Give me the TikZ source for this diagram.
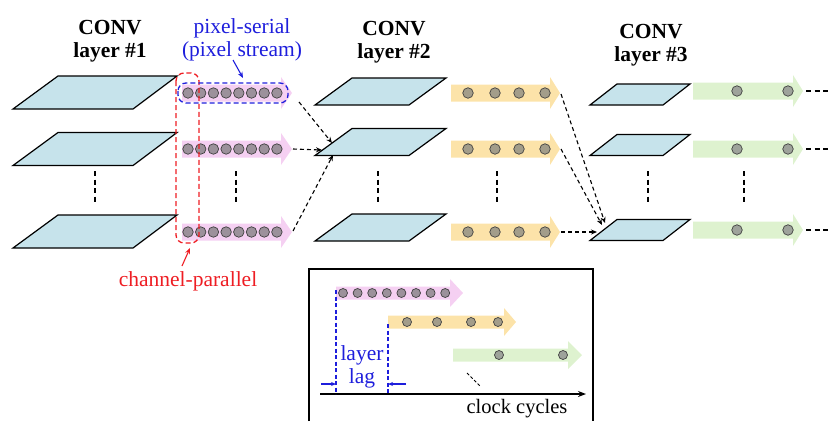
\documentclass[tikz,border=0pt]{standalone}
\usepackage{fontspec}
\setmainfont{Liberation Serif}
\usetikzlibrary{arrows.meta}
\definecolor{red}{HTML}{EE1D23}
\definecolor{blue}{HTML}{1E1EDC}
\definecolor{plane}{HTML}{C6E3EB}
\definecolor{pink}{HTML}{F5D0F2}
\definecolor{yellow}{HTML}{FCE3A9}
\definecolor{green}{HTML}{DEF2CF}
\definecolor{pinkdot}{HTML}{9C919B}
\definecolor{yellowdot}{HTML}{A39D8A}
\definecolor{greendot}{HTML}{9EA39B}

\tikzset{
  plane/.style={draw=black,fill=plane,line width=1.2pt,line join=miter},
  dot/.style={circle,draw=black!75,line width=0.7pt,inner sep=0pt,minimum size=10.5pt},
  link/.style={line width=1.1pt,dash pattern=on 4pt off 3pt,-{Stealth[length=6pt,width=5pt]}},
  vdots/.style={line width=1.1pt,dash pattern=on 5pt off 3.5pt},
  txt/.style={align=center,inner sep=0pt,font=\fontsize{21.5}{22.5}\selectfont},
}

\begin{document}
\begin{tikzpicture}[x=1pt,y=-1pt]
  \useasboundingbox (0,0) rectangle (830,421);

  % headings
  \node (h1) at (110,41)[txt,font=\fontsize{21.5}{22.5}\selectfont\bfseries]{CONV\\layer \#1};
  \node (h2) at (394,42)[txt,font=\fontsize{21.5}{22.5}\selectfont\bfseries]{CONV\\layer \#2};
  \node (h3) at (651,45)[txt,font=\fontsize{21.5}{22.5}\selectfont\bfseries]{CONV\\layer \#3};

  % feature maps
  \foreach \y in {92.5,149,231.5}
    \draw[plane] (13,\y+16.5) -- (133,\y+16.5) -- (177,\y-16.5) -- (58,\y-16.5) -- cycle;
  \foreach \y in {91.5,142,227.5}
    \draw[plane] (315,\y+13.5) -- (409,\y+13.5) -- (446,\y-13.5) -- (352,\y-13.5) -- cycle;
  \foreach \y in {94.5,145,230}
    \draw[plane] (590,\y+10.5) -- (663,\y+10.5) -- (690,\y-10.5) -- (617,\y-10.5) -- cycle;

  % pixel streams
  \foreach \y in {93,149,232} {
    \fill[pink] (182,\y-8.5) -- (281,\y-8.5) -- (281,\y-16) -- (292,\y) -- (281,\y+16) -- (281,\y+8.5) -- (182,\y+8.5) -- cycle;
    \foreach \i in {0,...,7}
      \node (pa-\y-\i) at (188+12.7*\i,\y)[dot,fill=pinkdot]{};
    \fill[yellow] (451,\y-8.5) -- (550,\y-8.5) -- (550,\y-16) -- (560,\y) -- (550,\y+16) -- (550,\y+8.5) -- (451,\y+8.5) -- cycle;
    \foreach \x in {468,495,519,545}
      \node (ya-\y-\x) at (\x,\y)[dot,fill=yellowdot]{};
  }
  \foreach \y in {91,149,230} {
    \fill[green] (693,\y-8.5) -- (793,\y-8.5) -- (793,\y-16) -- (803,\y) -- (793,\y+16) -- (793,\y+8.5) -- (693,\y+8.5) -- cycle;
    \foreach \x in {737,788}
      \node (ga-\y-\x) at (\x,\y)[dot,fill=greendot]{};
    \coordinate (gout-\y) at (806,\y);
    \coordinate (gend-\y) at (830,\y);
    \draw[vdots] (gout-\y) -- (gend-\y);
  }

  % vertical dots between rows
  \foreach \x in {95,236,378,497,648,744}
    \draw[vdots] (\x,171) -- (\x,203);

  % channel-parallel / pixel-serial marks
  \draw[red,line width=1.3pt,dash pattern=on 5pt off 3pt,rounded corners=8pt] (176,73) rectangle (199,243);
  \draw[blue,line width=1.3pt,dash pattern=on 5pt off 3pt,rounded corners=8pt] (178,83) rectangle (288,103);

  \node (serial) at (242,40)[txt,text=blue]{pixel-serial\\(pixel stream)};
  \node (parallel) at (188,281)[txt,text=red]{channel-parallel};
  \coordinate (serialtip) at (243,78);
  \coordinate (paralleltip) at (190,248);
  \draw[blue,line width=1.1pt,-{Stealth[length=6pt,width=5pt]}] (233,60) -- (serialtip);
  \draw[red,line width=1.1pt,-{Stealth[length=6pt,width=5pt]}] (182,266) -- (paralleltip);

  % layer 1 -> layer 2
  \coordinate (out1a) at (299,102);
  \coordinate (out1b) at (293,149);
  \coordinate (out1c) at (293,231);
  \coordinate (in2a) at (332,143);
  \coordinate (in2b) at (322,150);
  \coordinate (in2c) at (333,155);
  \draw[link] (out1a) -- (in2a);
  \draw[link] (out1b) -- (in2b);
  \draw[link] (out1c) -- (in2c);

  % layer 2 -> layer 3
  \coordinate (out2a) at (561,94);
  \coordinate (out2b) at (561,149);
  \coordinate (out2c) at (561,232);
  \coordinate (in3a) at (605,223);
  \coordinate (in3b) at (602,225);
  \coordinate (in3c) at (597,232);
  \draw[link] (out2a) -- (in3a);
  \draw[link] (out2b) -- (in3b);
  \draw[link] (out2c) -- (in3c);

  % timing inset
  \draw[line width=1.4pt] (309,421) -- (309,269) -- (593,269) -- (593,421);
  \fill[pink] (336,286.5) -- (450,286.5) -- (450,279) -- (463,293) -- (450,307) -- (450,299.5) -- (336,299.5) -- cycle;
  \foreach \i in {0,...,7}
    \node (pb-\i) at (343+14.6*\i,293)[dot,fill=pinkdot,minimum size=9pt]{};
  \fill[yellow] (388,315.5) -- (504,315.5) -- (504,308) -- (516,322) -- (504,336) -- (504,328.5) -- (388,328.5) -- cycle;
  \foreach \x in {407,437,471,498}
    \node (yb-\x) at (\x,322)[dot,fill=yellowdot,minimum size=9pt]{};
  \fill[green] (453,348.5) -- (568,348.5) -- (568,341) -- (582,355) -- (568,369) -- (568,361.5) -- (453,361.5) -- cycle;
  \foreach \x in {499,563}
    \node (gb-\x) at (\x,355)[dot,fill=greendot,minimum size=9pt]{};
  \draw[line width=0.9pt,dash pattern=on 3pt off 2pt] (467,373) -- (480,386);

  \coordinate (t0) at (320,394);
  \coordinate (t1) at (586,394);
  \draw[line width=1.4pt,-{Stealth[length=8pt,width=6pt]}] (t0) -- (t1);
  \node (clk) at (517,409)[txt,font=\fontsize{20.5}{22}\selectfont]{clock cycles};

  \coordinate (lag0) at (336,394);
  \coordinate (lag1) at (388,394);
  \draw[blue,line width=1.1pt,dash pattern=on 4pt off 2.5pt] (336,290) -- (lag0);
  \draw[blue,line width=1.1pt,dash pattern=on 4pt off 2.5pt] (388,324) -- (lag1);
  \draw[blue,line width=1.1pt,-{Stealth[length=5pt,width=4pt]}] (321,384) -- (336,384);
  \draw[blue,line width=1.1pt,-{Stealth[length=5pt,width=4pt]}] (406,384) -- (388,384);
  \node (lag) at (362,367)[txt,text=blue]{layer\\lag};
\end{tikzpicture}
\end{document}
